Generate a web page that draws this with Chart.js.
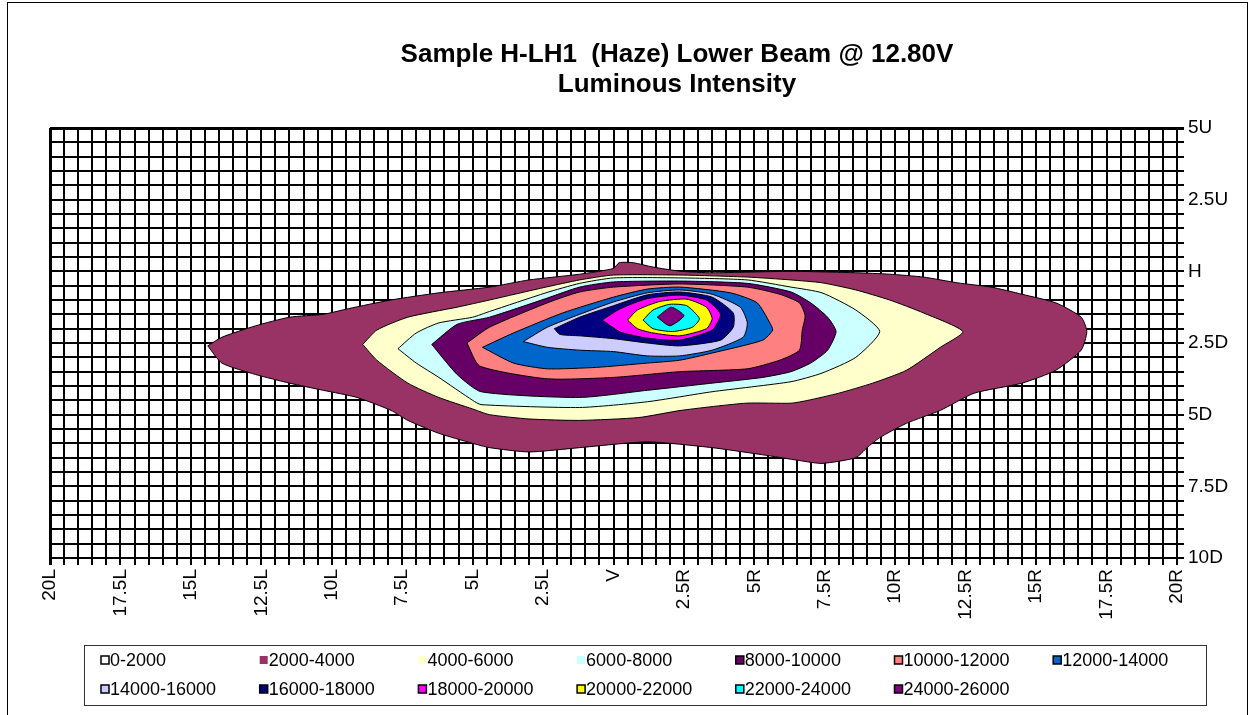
<!DOCTYPE html>
<html>
<head>
<meta charset="utf-8">
<script src="https://cdn.jsdelivr.net/npm/chart.js@4.4.1/dist/chart.umd.min.js"></script>
<style>
  html, body { margin: 0; padding: 0; background: #fff; }
  #wrap { width: 1252px; height: 715px; }
</style>
</head>
<body>
<div id="wrap"><canvas id="contourChart" width="1252" height="715"></canvas></div>
<script>
// axis ticks (degrees)
const xTickValues = [-20, -17.5, -15, -12.5, -10, -7.5, -5, -2.5, 0, 2.5, 5, 7.5, 10, 12.5, 15, 17.5, 20];
const xTickLabels = ['20L', '17.5L', '15L', '12.5L', '10L', '7.5L', '5L', '2.5L', 'V', '2.5R', '5R', '7.5R', '10R', '12.5R', '15R', '17.5R', '20R'];
const yTickValues = [5, 2.5, 0, -2.5, -5, -7.5, -10];
const yTickLabels = ['5U', '2.5U', 'H', '2.5D', '5D', '7.5D', '10D'];

// candela bands
const bandLabels = ['0-2000', '2000-4000', '4000-6000', '6000-8000', '8000-10000', '10000-12000', '12000-14000',
  '14000-16000', '16000-18000', '18000-20000', '20000-22000', '22000-24000', '24000-26000'];
const bandColors = ['#ffffff', '#993366', '#ffffcc', '#ccffff', '#660066', '#ff8080', '#0066cc',
  '#ccccff', '#000080', '#ff00ff', '#ffff00', '#00ffff', '#800080'];

// iso-candela outlines [x deg, y deg], one per band lower limit
const contour2000 = [[-14.4, -2.6], [-13.9, -2.3], [-12.7, -1.9], [-11.5, -1.6], [-10.3, -1.5], [-9.4, -1.3], [-7.9, -1.0],
  [-6.2, -0.75], [-4.4, -0.55], [-3.0, -0.3], [-1.2, -0.1], [0, 0.1], [0.2, 0.3], [0.7, 0.3], [1.4, 0.15], [2.4, 0],
  [3.5, -0.05], [6.3, 0], [8.6, -0.05], [9.8, -0.1], [11.0, -0.2], [12.2, -0.4], [13.4, -0.55], [14.5, -0.8], [15.7, -1.1],
  [16.6, -1.6], [16.8, -2.1], [16.6, -2.75], [15.7, -3.45], [14.5, -3.9], [12.8, -4.25], [11.6, -4.85], [10.4, -5.3],
  [9.45, -5.8], [9.0, -6.15], [8.6, -6.5], [7.4, -6.7], [6.6, -6.6], [5.3, -6.4], [3.5, -6.15], [1.2, -5.95], [-1.2, -6.15],
  [-3.0, -6.3], [-4.4, -6.15], [-5.0, -6.0], [-6.2, -5.65], [-7.3, -5.2], [-7.9, -4.85], [-9.1, -4.4], [-10.3, -4.15],
  [-11.5, -3.9], [-12.7, -3.6], [-13.9, -3.2]];
const contour4000 = [[-8.9, -2.55], [-8.4, -2.05], [-7.3, -1.6], [-5.55, -1.25], [-4.4, -1.0], [-2.4, -0.55], [-1.2, -0.3],
  [0, -0.13], [2.4, -0.13], [4.75, -0.2], [6.3, -0.3], [7.4, -0.4], [8.6, -0.65], [9.8, -1.0], [11.0, -1.45], [12.4, -2.1],
  [11.6, -2.65], [10.4, -3.45], [9.2, -3.9], [8.0, -4.25], [6.9, -4.5], [6.3, -4.6], [4.7, -4.6], [2.4, -4.85], [0.9, -5.1],
  [-1.2, -5.2], [-3.0, -5.15], [-4.4, -5.0], [-5.0, -4.8], [-6.2, -4.4], [-7.3, -3.9], [-8.4, -3.1]];
const contour6000 = [[-7.65, -2.7], [-7.0, -2.15], [-6.2, -1.8], [-5.0, -1.6], [-4.4, -1.4], [-2.4, -0.75], [-1.2, -0.42],
  [0, -0.23], [2.4, -0.23], [4.75, -0.3], [6.3, -0.55], [7.4, -0.75], [8.6, -1.35], [9.45, -2.1],
  [8.6, -3.0], [7.4, -3.55], [6.3, -3.85], [3.5, -4.2], [1.2, -4.55], [-1.2, -4.75], [-4.7, -4.65], [-5.0, -4.5],
  [-6.2, -3.7], [-7.0, -3.2]];
const contour8000 = [[-6.45, -2.55], [-5.55, -1.85], [-4.4, -1.6], [-2.4, -0.95], [-1.2, -0.55], [0, -0.37], [2.4, -0.34],
  [4.75, -0.42], [6.3, -0.72], [7.0, -1.1], [7.6, -1.6], [7.9, -2.1],
  [7.6, -2.75], [7.0, -3.2], [6.3, -3.5], [5.3, -3.7], [3.5, -3.9], [1.2, -4.15], [-1.2, -4.4], [-4.7, -4.2], [-5.55, -3.6]];
const contour10000 = [[-5.2, -2.5], [-4.4, -1.95], [-2.35, -1.1], [-1.2, -0.72], [0, -0.55], [2.35, -0.44], [4.75, -0.55],
  [5.9, -0.8], [6.6, -1.1], [6.8, -1.55], [6.7, -2.05],
  [6.6, -2.75], [5.9, -3.1], [4.75, -3.4], [2.35, -3.5], [0, -3.7], [-2.35, -3.75], [-4.75, -3.3]];
const contour12000 = [[-4.65, -2.65], [-3.55, -2.15], [-1.8, -1.45], [0, -0.9], [1.2, -0.62], [2.35, -0.55], [4.15, -0.75],
  [5.1, -1.1], [5.55, -1.8], [5.65, -2.05],
  [5.3, -2.4], [3.5, -2.85], [2.35, -3.1], [1.2, -3.2], [-0.6, -3.35], [-2.35, -3.4], [-3.55, -3.2]];
const contour14000 = [[-3.2, -2.45], [-2.35, -1.95], [-1.2, -1.5], [0, -1.07], [1.2, -0.75], [2.35, -0.65], [3.5, -0.8],
  [4.5, -1.25], [4.75, -1.8], [4.6, -2.3], [3.5, -2.75], [2.35, -2.95], [1.2, -2.95], [0, -2.8], [-1.2, -2.75], [-2.35, -2.65]];
const contour16000 = [[-2.1, -2.0], [-1.2, -1.6], [0, -1.2], [1.2, -0.82], [2.35, -0.72], [3.5, -0.9], [4.25, -1.45],
  [4.25, -1.95], [3.8, -2.4], [2.35, -2.6], [1.2, -2.5], [0, -2.35], [-1.2, -2.25], [-1.9, -2.2]];
const contour18000 = [[-0.4, -1.7], [0.25, -1.3], [1.2, -0.95], [2.35, -0.83], [3.3, -1.0], [3.8, -1.5], [3.5, -2.05],
  [2.35, -2.4], [1.2, -2.33], [0.25, -2.12]];
const contour20000 = [[0.5, -1.7], [0.85, -1.35], [1.65, -1.05], [2.6, -0.97], [3.3, -1.25], [3.5, -1.65], [3.3, -2.0],
  [2.35, -2.25], [1.4, -2.15], [0.85, -2.0]];
const contour22000 = [[1.05, -1.7], [1.4, -1.35], [2.0, -1.15], [2.6, -1.2], [3.05, -1.65], [2.8, -1.95], [2.1, -2.1], [1.4, -2.0]];
const contour24000 = [[1.55, -1.6], [2.05, -1.25], [2.5, -1.55], [2.0, -1.9]];

const contours = [contour2000, contour4000, contour6000, contour8000, contour10000, contour12000,
  contour14000, contour16000, contour18000, contour20000, contour22000, contour24000];

const FONT = "'Liberation Sans', Arial, sans-serif";

function tickText(value, values, labels) {
  const i = values.findIndex(v => Math.abs(v - value) < 1e-6);
  return i < 0 ? '' : labels[i];
}

// outer band first so inner ones paint over it
const datasets = contours.map((pts, i) => ({
  label: bandLabels[i + 1],
  data: pts.concat([pts[0]]).map(p => ({ x: p[0], y: p[1] })),
  fill: 'shape',
  backgroundColor: bandColors[i + 1],
  borderColor: '#000',
  borderWidth: 1,
  pointRadius: 0,
  tension: 0.2,
  order: -i
}));

const decorations = {
  id: 'decorations',
  afterDraw(chart) {
    const ctx = chart.ctx;
    ctx.save();
    // chart frame
    ctx.strokeStyle = '#000';
    ctx.lineWidth = 1;
    ctx.strokeRect(7.5, 2.5, 1240, 720);

    // title
    ctx.fillStyle = '#000';
    ctx.textAlign = 'center';
    ctx.textBaseline = 'middle';
    ctx.font = 'bold 26px ' + FONT;
    ctx.fillText('Sample H-LH1  (Haze) Lower Beam @ 12.80V', 677, 55);
    ctx.fillText('Luminous Intensity', 677, 85);

    // legend box
    ctx.strokeStyle = '#333';
    ctx.strokeRect(84.5, 645.5, 1122, 60);
    ctx.font = '18px ' + FONT;
    ctx.textAlign = 'left';
    bandLabels.forEach((lab, i) => {
      const col = i % 7, row = Math.floor(i / 7);
      const x = 101 + col * 158.7, y = 660 + row * 29;
      ctx.fillStyle = bandColors[i];
      ctx.fillRect(x, y - 4, 8, 8);
      if (i < 1 || i > 3) {
        ctx.strokeStyle = '#000';
        ctx.lineWidth = 1.5;
        ctx.strokeRect(x, y - 4, 8, 8);
      }
      ctx.fillStyle = '#000';
      ctx.fillText(lab, x + 9, y + 1);
    });
    ctx.restore();
  }
};

new Chart(document.getElementById('contourChart').getContext('2d'), {
  type: 'line',
  data: { datasets: datasets },
  plugins: [decorations],
  options: {
    responsive: false,
    animation: false,
    events: [],
    layout: { padding: { left: 50, top: 128, right: 0, bottom: 0 } },
    plugins: {
      legend: { display: false },
      title: { display: false },
      tooltip: { enabled: false }
    },
    scales: {
      x: {
        type: 'linear',
        min: -20,
        max: 20,
        z: 1,
        grid: {
          color: '#000',
          lineWidth: c => (c.tick && c.tick.value === -20 ? 3 : 2),
          tickLength: 7
        },
        border: { color: '#000', width: 2 },
        ticks: {
          stepSize: 0.5,
          maxTicksLimit: 200,
          autoSkip: false,
          minRotation: 90,
          maxRotation: 90,
          padding: 4,
          color: '#000',
          font: { family: FONT, size: 19 },
          callback: v => tickText(v, xTickValues, xTickLabels)
        },
        afterFit: s => { s.height = 157; }
      },
      y: {
        type: 'linear',
        position: 'right',
        min: -10,
        max: 5,
        z: 1,
        grid: {
          color: '#000',
          lineWidth: c => (c.tick && c.tick.value === 5 ? 3 : 2),
          tickLength: 7
        },
        border: { color: '#000', width: 2 },
        ticks: {
          stepSize: 0.5,
          maxTicksLimit: 200,
          autoSkip: false,
          padding: 4,
          color: '#000',
          font: { family: FONT, size: 19 },
          callback: v => tickText(v, yTickValues, yTickLabels)
        },
        afterFit: s => { s.width = 75; }
      }
    }
  }
});
</script>
</body>
</html>
